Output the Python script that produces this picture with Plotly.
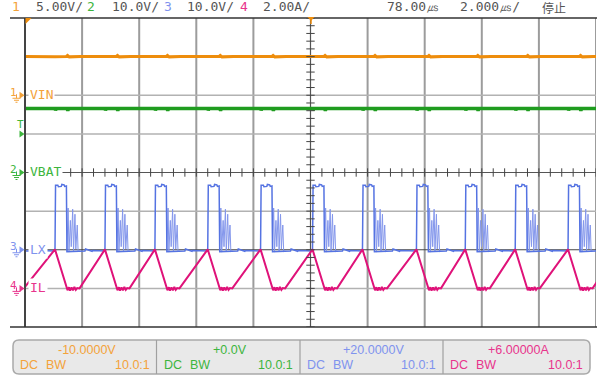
import plotly.graph_objects as go

W, H = 597, 376
X0, X1 = 25.0, 596.0      # plot area left/right (px)
Y0, Y1 = 18.0, 327.0      # plot area top/bottom (px)
DIV_PX = (Y1 - Y0) / 8.0
YC = (Y0 + Y1) / 2.0

# ---------------- data ----------------
CH_NAME = ["VIN", "VBAT", "LX", "IL"]
CH_SCALE = [5.0, 10.0, 10.0, 2.0]
CH_OFFSET = [-10.0, 0.0, 20.0, 6.0]
CH_SCALE_LABEL = ["5.00V/", "10.0V/", "10.0V/", "2.00A/"]
CH_OFFSET_LABEL = ["-10.0000V", "+0.0V", "+20.0000V", "+6.00000A"]
CH_COUPLING = ["DC", "DC", "DC", "DC"]
CH_BW = ["BW", "BW", "BW", "BW"]
CH_PROBE = ["10.0:1", "10.0:1", "10.0:1", "10.0:1"]
DELAY_LABEL = "78.00㎲"
TIMEBASE_LABEL = "2.000㎲/"
RUN_STATE = "停止"
TIME_PER_DIV = 2.0      # us / div
TRIGGER_LEVEL = 10.0    # V on CH2

# switching pulse start times (us, relative to trigger)
PULSE_T = [-10.9, -8.95, -7.20, -5.45, -3.60, -1.75, 0.07, 1.82, 3.71, 5.42, 7.17, 9.02, 10.8]

# LX node waveform around each pulse (time after pulse start, volts)
LX_DT = [0.00, 0.02, 0.10, 0.12, 0.22, 0.24, 0.32, 0.34, 0.40, 0.42, 0.86, 1.05, 1.07, 1.30, 1.32]
LX_V = [-0.3, 16.7, 16.7, 16.3, 16.4, 16.9, 16.8, 16.4, 16.5, -0.5, -0.3, -0.3, 0.2, -0.4, -0.2]
# LX ringing after each pulse
RING_DT = [0.42, 0.46, 0.49, 0.54, 0.57, 0.62, 0.65, 0.70, 0.73, 0.78, 0.81, 0.86]
RING_V = [-0.5, 10.8, -0.6, 7.6, 0.8, 10.5, -0.4, 9.2, 0.2, 6.4, -0.5, -0.3]

# inductor current around each pulse (time after pulse start, amps)
IL_DT = [0.00, 0.44, 0.49, 0.53, 0.58, 0.63, 0.68, 0.73, 0.78, 0.86]
IL_A = [2.02, -0.10, 0.06, -0.12, 0.05, -0.10, 0.07, -0.08, 0.02, 0.00]

# input / battery voltages around each pulse
VIN_DT = [0.00, 0.40, 0.44, 0.50, 0.90]
VIN_V = [5.00, 5.03, 5.15, 4.97, 5.02]
VBAT_DT = [0.00, 0.02, 0.05, 0.42, 0.45, 0.48]
VBAT_V = [16.6, 16.1, 16.6, 16.6, 16.0, 16.6]

TRACE_COLOR = ["#ee8d0c", "#1f9c1f", "#5573e2", "#df1279"]
RING_COLOR = "#8497ec"
TEXT_COLOR = ["#f3a23a", "#3db53d", "#7f93ee", "#e8348c"]
HEAD_COLOR = "#555555"
MONO = "DejaVu Sans Mono"
SANS = "Liberation Sans"


def px(x):
    return x / W


def py(y):
    return 1.0 - y / H


def to_div(ch, v):
    return (v - CH_OFFSET[ch]) / CH_SCALE[ch]


def div_to_px(d):
    return YC - d * DIV_PX


def build(ch, dts, vals, gap=False):
    xs, ys = [], []
    for tr in PULSE_T:
        for dt, v in zip(dts, vals):
            xs.append(tr + dt)
            ys.append(to_div(ch, v))
        if gap:
            xs.append(None)
            ys.append(None)
    return xs, ys


fig = go.Figure()

series = [(0, VIN_DT, VIN_V, 3.0, TRACE_COLOR[0], False),
          (1, VBAT_DT, VBAT_V, 3.5, TRACE_COLOR[1], False),
          (2, RING_DT, RING_V, 1.0, RING_COLOR, True),
          (2, LX_DT, LX_V, 1.5, TRACE_COLOR[2], False),
          (3, IL_DT, IL_A, 2.0, TRACE_COLOR[3], False)]
for ch, dts, vals, w, col, gap in series:
    xs, ys = build(ch, dts, vals, gap)
    fig.add_trace(go.Scatter(x=xs, y=ys, mode="lines", name=CH_NAME[ch],
                             line=dict(color=col, width=w),
                             hoverinfo="skip", showlegend=False))

# centre graticule ticks
tick_x = [-10 + 0.4 * k for k in range(51)]
fig.add_trace(go.Scatter(x=tick_x, y=[0] * len(tick_x), mode="markers",
                         marker=dict(symbol="line-ns-open", size=6, color="#444",
                                     line=dict(width=1, color="#444")),
                         hoverinfo="skip", showlegend=False))
tick_y = [-4 + 0.2 * k for k in range(41)]
fig.add_trace(go.Scatter(x=[0] * len(tick_y), y=tick_y, mode="markers",
                         marker=dict(symbol="line-ew-open", size=6, color="#444",
                                     line=dict(width=1, color="#444")),
                         hoverinfo="skip", showlegend=False))

shapes = []
# vertical grid
for k in range(1, 11):
    t = -10 + k * TIME_PER_DIV
    if k == 5:
        continue
    shapes.append(dict(type="line", xref="x", yref="y", x0=t, x1=t, y0=-4, y1=4,
                       line=dict(color="#9c9c9c", width=2), layer="below"))
# horizontal grid
for d in [3, 2, 1, -1, -3]:
    shapes.append(dict(type="line", xref="x", yref="y", x0=-10, x1=10, y0=d, y1=d,
                       line=dict(color="#b2b2b2", width=1.5), layer="below"))
# dark lines
shapes.append(dict(type="line", xref="x", yref="y", x0=-10, x1=10, y0=0, y1=0,
                   line=dict(color="#555", width=1.2), layer="below"))
shapes.append(dict(type="line", xref="x", yref="y", x0=-10, x1=10, y0=-2, y1=-2,
                   line=dict(color="#444", width=1.2), layer="below"))
shapes.append(dict(type="line", xref="x", yref="y", x0=0, x1=0, y0=-4, y1=4,
                   line=dict(color="#555", width=1.2), layer="below"))
shapes.append(dict(type="line", xref="paper", yref="paper", x0=px(X0), x1=px(X0),
                   y0=py(Y0), y1=py(Y1), line=dict(color="#444", width=2)))
for yy in (Y0, Y1):
    shapes.append(dict(type="line", xref="paper", yref="paper", x0=px(10), x1=1,
                       y0=py(yy), y1=py(yy), line=dict(color="#333", width=1.5)))

# top markers
shapes.append(dict(type="path", xref="paper", yref="paper",
                   path=f"M {px(25.5)},{py(18)} L {px(31.5)},{py(18)} L {px(25.5)},{py(24)} Z",
                   fillcolor=TRACE_COLOR[0], line=dict(width=0)))
shapes.append(dict(type="path", xref="paper", yref="paper",
                   path=f"M {px(307.5)},{py(17)} L {px(314.5)},{py(17)} L {px(311)},{py(21)} Z",
                   fillcolor=TRACE_COLOR[0], line=dict(width=0)))
shapes.append(dict(type="line", xref="paper", yref="paper", x0=px(311), x1=px(311),
                   y0=py(20), y1=py(24), line=dict(color=TRACE_COLOR[0], width=1.5)))

annotations = []
# channel reference markers
for ch in range(4):
    ym = div_to_px(-CH_OFFSET[ch] / CH_SCALE[ch])
    col = TEXT_COLOR[ch]
    shapes.append(dict(type="path", xref="paper", yref="paper",
                       path=f"M {px(19.5)},{py(ym-3.5)} L {px(24.5)},{py(ym)} L {px(19.5)},{py(ym+3.5)} Z",
                       fillcolor=col, line=dict(width=0)))
    shapes.append(dict(type="line", xref="paper", yref="paper", x0=px(16.5), x1=px(16.5),
                       y0=py(ym - 1), y1=py(ym + 3), line=dict(color=col, width=1)))
    for (a, b, yy) in [(12.5, 20.5, 3), (14, 19, 5), (15.5, 17.5, 7)]:
        shapes.append(dict(type="line", xref="paper", yref="paper", x0=px(a), x1=px(b),
                           y0=py(ym + yy), y1=py(ym + yy), line=dict(color=col, width=1)))
    annotations.append(dict(text=str(ch + 1), xref="paper", yref="paper", x=px(13.5), y=py(ym - 3),
                            showarrow=False, font=dict(family=MONO, size=11, color=col),
                            xanchor="center", yanchor="middle"))
    annotations.append(dict(text=CH_NAME[ch], xref="paper", yref="paper", x=px(27.5), y=py(ym - 0.5),
                            showarrow=False, font=dict(family=MONO, size=13, color=col),
                            xanchor="left", yanchor="middle", bgcolor="white", borderpad=1))

# trigger level marker (CH2)
yt = div_to_px(to_div(1, TRIGGER_LEVEL))
shapes.append(dict(type="path", xref="paper", yref="paper",
                   path=f"M {px(19.5)},{py(yt-3.5)} L {px(24.5)},{py(yt)} L {px(19.5)},{py(yt+3.5)} Z",
                   fillcolor=TEXT_COLOR[1], line=dict(width=0)))
annotations.append(dict(text="T", xref="paper", yref="paper", x=px(20.5), y=py(yt - 9),
                        showarrow=False, font=dict(family=MONO, size=11, color=TEXT_COLOR[1]),
                        xanchor="center", yanchor="middle"))

# header
head_num_x = [16, 91, 168, 244]
head_lab_x = [34, 110, 185, 261]
for ch in range(4):
    annotations.append(dict(text=str(ch + 1), xref="paper", yref="paper", x=px(head_num_x[ch]), y=py(7),
                            showarrow=False, font=dict(family=MONO, size=13, color=TEXT_COLOR[ch]),
                            xanchor="center", yanchor="middle"))
    annotations.append(dict(text=CH_SCALE_LABEL[ch], xref="paper", yref="paper", x=px(head_lab_x[ch]), y=py(7),
                            showarrow=False, font=dict(family=MONO, size=13, color=HEAD_COLOR),
                            xanchor="left", yanchor="middle"))
for txt, xx in [(DELAY_LABEL, 385), (TIMEBASE_LABEL, 458)]:
    annotations.append(dict(text=txt, xref="paper", yref="paper", x=px(xx), y=py(7),
                            showarrow=False, font=dict(family=MONO, size=13, color=HEAD_COLOR),
                            xanchor="left", yanchor="middle"))
annotations.append(dict(text=RUN_STATE, xref="paper", yref="paper", x=px(540), y=py(7.5),
                        showarrow=False, font=dict(family="Noto Sans CJK SC", size=12, color=HEAD_COLOR),
                        xanchor="left", yanchor="middle"))

# bottom channel panel
PX_L, PX_R, PY_T, PY_B, R = 13.0, 590.0, 340.0, 374.0, 6.0
path = (f"M {px(PX_L+R)},{py(PY_T)} L {px(PX_R-R)},{py(PY_T)} "
        f"Q {px(PX_R)},{py(PY_T)} {px(PX_R)},{py(PY_T+R)} L {px(PX_R)},{py(PY_B-R)} "
        f"Q {px(PX_R)},{py(PY_B)} {px(PX_R-R)},{py(PY_B)} L {px(PX_L+R)},{py(PY_B)} "
        f"Q {px(PX_L)},{py(PY_B)} {px(PX_L)},{py(PY_B-R)} L {px(PX_L)},{py(PY_T+R)} "
        f"Q {px(PX_L)},{py(PY_T)} {px(PX_L+R)},{py(PY_T)} Z")
shapes.append(dict(type="path", xref="paper", yref="paper", path=path,
                   fillcolor="#e9e9e9", line=dict(color="#a9a9a9", width=1.5)))
cell_edges = [PX_L, 156.5, 300.0, 443.0, PX_R]
for xe in cell_edges[1:-1]:
    shapes.append(dict(type="line", xref="paper", yref="paper", x0=px(xe), x1=px(xe),
                       y0=py(PY_T), y1=py(PY_B), line=dict(color="#a0a0a0", width=1.2)))
for ch in range(4):
    a, b = cell_edges[ch], cell_edges[ch + 1]
    col = TEXT_COLOR[ch]
    f = dict(family=SANS, size=12.5, color=col)
    annotations.append(dict(text=CH_OFFSET_LABEL[ch], xref="paper", yref="paper", x=px((a + b) / 2 + 2),
                            y=py(350), showarrow=False, font=f, xanchor="center", yanchor="middle"))
    annotations.append(dict(text=CH_COUPLING[ch], xref="paper", yref="paper", x=px(a + 5),
                            y=py(364.5), showarrow=False, font=f, xanchor="left", yanchor="middle"))
    annotations.append(dict(text=CH_BW[ch], xref="paper", yref="paper", x=px(a + 31),
                            y=py(364.5), showarrow=False, font=f, xanchor="left", yanchor="middle"))
    annotations.append(dict(text=CH_PROBE[ch], xref="paper", yref="paper", x=px(b - 5),
                            y=py(364.5), showarrow=False, font=f, xanchor="right", yanchor="middle"))

fig.update_layout(
    width=W, height=H,
    margin=dict(l=0, r=0, t=0, b=0),
    paper_bgcolor="white", plot_bgcolor="white",
    xaxis=dict(domain=[px(X0), px(X1)], range=[-10, 10], showgrid=False, zeroline=False,
               showticklabels=False, ticks="", showline=False, fixedrange=True),
    yaxis=dict(domain=[py(Y1), py(Y0)], range=[-4, 4], showgrid=False, zeroline=False,
               showticklabels=False, ticks="", showline=False, fixedrange=True),
    shapes=shapes, annotations=annotations, showlegend=False,
)

fig.write_html("out.html", config={"displayModeBar": False, "staticPlot": True},
               post_script="document.body.style.margin='0';document.body.style.overflow='hidden';")
